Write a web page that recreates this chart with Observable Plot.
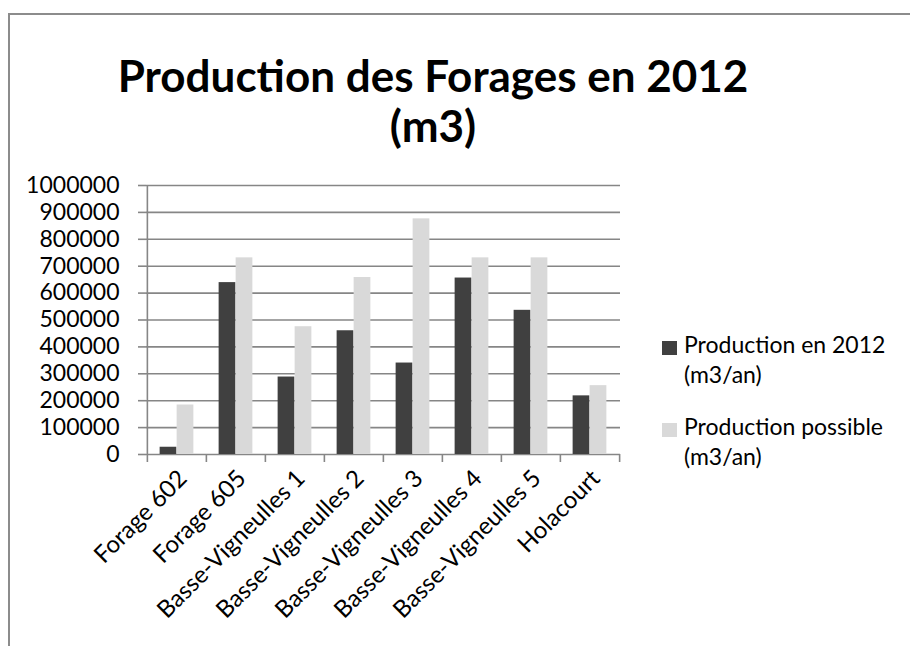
<!DOCTYPE html>
<html>
<head>
<meta charset="utf-8">
<script src="https://cdn.jsdelivr.net/npm/d3@7"></script>
<script src="https://cdn.jsdelivr.net/npm/@observablehq/plot@0.6"></script>
<style>
  html, body { margin: 0; padding: 0; background: #fff; }
  #wrap { position: relative; width: 910px; height: 646px; overflow: hidden; font-family: Lato, "Open Sans", sans-serif; }
  #frame { position: absolute; left: 8px; top: 13px; right: -10px; bottom: -10px; border-left: 2px solid #8c8c8c; border-top: 2px solid #8c8c8c; }
  #title { position: absolute; left: 0; width: 866px; top: 50px; text-align: center; font-weight: bold; font-size: 44px; line-height: 50px; color: #000; }
  #chart { position: absolute; left: 0; top: 0; }
  .leg { position: absolute; left: 662px; font-size: 23px; line-height: 30px; color: #000; }
  .leg .sw { position: absolute; left: 0; width: 15px; height: 14px; }
  .leg .tx { position: absolute; left: 22px; white-space: nowrap; }
</style>
</head>
<body>
<div id="wrap">
  <div id="frame"></div>
  <div id="title">Production des Forages en 2012<br>(m3)</div>
  <div id="chart"></div>
  <div id="legend"></div>
</div>
<script>
const categories = ["Forage 602", "Forage 605", "Basse-Vigneulles 1", "Basse-Vigneulles 2", "Basse-Vigneulles 3", "Basse-Vigneulles 4", "Basse-Vigneulles 5", "Holacourt"];
const production2012 = [27000, 639000, 288000, 460000, 340000, 656000, 536000, 218000];
const productionPossible = [184000, 731000, 475000, 658000, 876000, 731000, 731000, 256000];
const seriesNames = ["Production en 2012 (m3/an)", "Production possible (m3/an)"];
const legendLines = [["Production en 2012", "(m3/an)"], ["Production possible", "(m3/an)"]];
const seriesColors = ["#404040", "#d9d9d9"];
const yTicks = [0, 100000, 200000, 300000, 400000, 500000, 600000, 700000, 800000, 900000, 1000000];

const data = [];
categories.forEach((c, i) => {
  data.push({category: c, series: seriesNames[0], value: production2012[i]});
  data.push({category: c, series: seriesNames[1], value: productionPossible[i]});
});

const W = 910, H = 646, mL = 146, mR = 290, mT = 185, mB = 192;
const step = (W - mL - mR) / categories.length;
const barW = 17;
const outer = (step - 2 * barW) / 2;
const tickDown = 8 / (H - mT - mB) * 1000000;

const chart = Plot.plot({
  width: W, height: H,
  marginLeft: mL, marginRight: mR, marginTop: mT, marginBottom: mB,
  style: {fontFamily: "Lato, 'Open Sans', sans-serif", fontSize: "23px", color: "#000", background: "transparent", overflow: "visible"},
  x: {domain: categories, padding: 0, label: null},
  y: {domain: [0, 1000000], label: null},
  color: {domain: seriesNames, range: seriesColors},
  marks: [
    Plot.ruleY(yTicks, {stroke: "#868686", strokeWidth: 1.6}),
    Plot.barY(data.filter(d => d.series === seriesNames[0]), {x: "category", y: "value", fill: "series", insetLeft: outer, insetRight: outer + barW}),
    Plot.barY(data.filter(d => d.series === seriesNames[1]), {x: "category", y: "value", fill: "series", insetLeft: outer + barW, insetRight: outer}),
    Plot.ruleX([categories[0]], {x: d => d, dx: -step / 2, y1: 0, y2: 1000000, stroke: "#868686", strokeWidth: 1.6}),
    Plot.ruleX(categories, {x: d => d, dx: -step / 2, y1: 0, y2: -tickDown, stroke: "#868686", strokeWidth: 1.6}),
    Plot.ruleX([categories[categories.length - 1]], {x: d => d, dx: step / 2, y1: 0, y2: -tickDown, stroke: "#868686", strokeWidth: 1.6}),
    Plot.axisY({ticks: yTicks, tickSize: 8, tickPadding: 19, tickFormat: d => String(d), stroke: "#868686", strokeWidth: 1.6, fill: "#000", label: null}),
    Plot.axisX({tickSize: 0, tickPadding: 20, tickRotate: -45, dx: 6, fontSize: 24, fill: "#000", label: null})
  ]
});
document.getElementById("chart").appendChild(chart);

const legend = document.getElementById("legend");
const legTops = [338, 420];
legendLines.forEach((lines, i) => {
  const g = document.createElement("div");
  g.className = "leg";
  g.style.top = legTops[i] + "px";
  const sw = document.createElement("div");
  sw.className = "sw";
  sw.style.top = "3px";
  sw.style.background = chart.scale("color").apply(seriesNames[i]);
  g.appendChild(sw);
  const tx = document.createElement("div");
  tx.className = "tx";
  tx.style.top = "-9px";
  tx.innerHTML = lines.join("<br>");
  g.appendChild(tx);
  legend.appendChild(g);
});
</script>
</body>
</html>
